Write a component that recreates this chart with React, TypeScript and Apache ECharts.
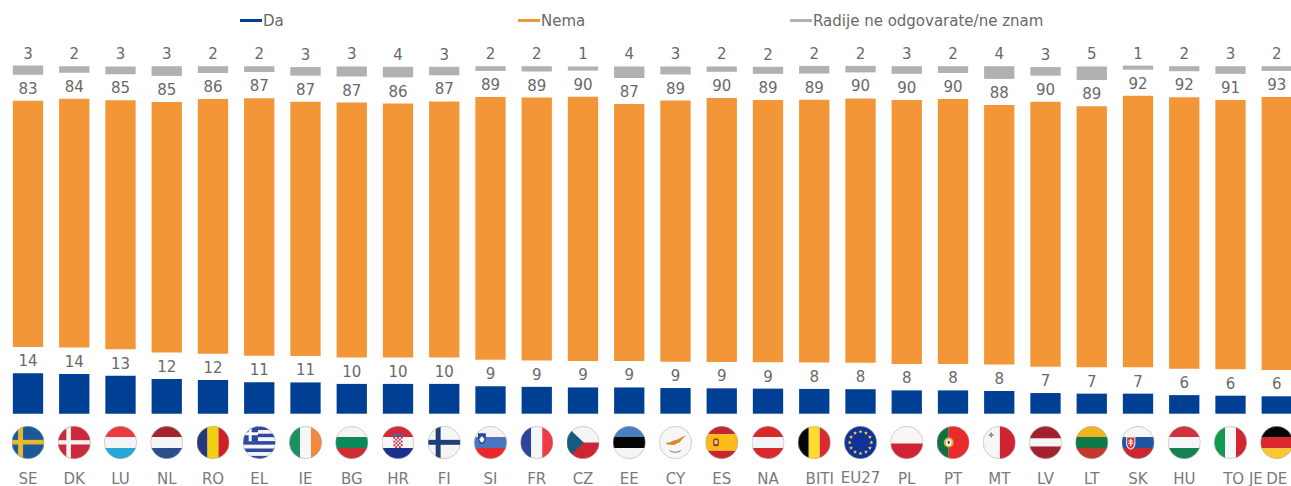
import React, { useEffect, useRef } from "react";
import * as echarts from "echarts";

const countries = ["SE","DK","LU","NL","RO","EL","IE","BG","HR","FI","SI","FR","CZ","EE","CY","ES","NA","BITI","EU27","PL","PT","MT","LV","LT","SK","HU","TO JE","DE"];
const daValues = [13.7,13.5,12.9,11.8,11.4,10.7,10.6,10.1,10.1,10.1,9.3,9.1,8.9,8.9,8.7,8.6,8.5,8.4,8.3,7.9,7.9,7.7,7.0,6.8,6.8,6.3,6.1,5.9];
const nemaValues = [83.4,84.3,84.4,84.9,86.3,87.3,86.2,86.4,86.1,86.8,89.1,89.1,89.6,87.1,88.5,89.5,88.9,89.1,89.6,89.5,89.8,88.0,89.8,88.5,92.0,92.0,91.3,92.5];
const dkValues = [3.1,2.2,2.6,3.3,2.3,2.0,2.9,3.4,3.6,2.9,1.6,1.8,1.4,3.9,2.7,1.8,2.4,2.6,2.2,2.6,2.3,4.3,2.9,4.6,1.4,1.7,2.6,1.6];
const daLabels = [14,14,13,12,12,11,11,10,10,10,9,9,9,9,9,9,9,8,8,8,8,8,7,7,7,6,6,6];
const nemaLabels = [83,84,85,85,86,87,87,87,86,87,89,89,90,87,89,90,89,89,90,90,90,88,90,89,92,92,91,93];
const dkLabels = [3,2,3,3,2,2,3,3,4,3,2,2,1,4,3,2,2,2,2,3,2,4,3,5,1,2,3,2];
const gapLow = 8.95;
const gapHigh = 8.85;

const h = (cols: string[], stops?: number[]) => {
  const s = stops || cols.map((_, i) => (100 / cols.length) * i);
  return cols.map((c, i) => `<rect x="0" y="${s[i]}" width="100" height="${(s[i + 1] ?? 100) - s[i]}" fill="${c}"/>`).join("");
};
const v = (cols: string[], stops?: number[]) => {
  const s = stops || cols.map((_, i) => (100 / cols.length) * i);
  return cols.map((c, i) => `<rect y="0" x="${s[i]}" height="100" width="${(s[i + 1] ?? 100) - s[i]}" fill="${c}"/>`).join("");
};
const cross = (bg: string, fg: string, x: number, w: number, y: number, t: number) =>
  `<rect width="100" height="100" fill="${bg}"/><rect x="${x}" y="0" width="${w}" height="100" fill="${fg}"/><rect x="0" y="${y}" width="100" height="${t}" fill="${fg}"/>`;
const starPts = (cx: number, cy: number, r: number) => {
  const p: string[] = [];
  for (let i = 0; i < 10; i++) {
    const a = (Math.PI / 5) * i - Math.PI / 2;
    const q = i % 2 ? r * 0.42 : r;
    p.push(`${(cx + q * Math.cos(a)).toFixed(1)},${(cy + q * Math.sin(a)).toFixed(1)}`);
  }
  return p.join(" ");
};
const euStars = Array.from({ length: 12 }, (_, i) => {
  const a = (Math.PI / 6) * i;
  return `<polygon points="${starPts(50 + 33 * Math.cos(a), 50 + 33 * Math.sin(a), 6.5)}" fill="#f6d33a"/>`;
}).join("");
const checker = (() => {
  let out = `<rect x="34" y="24" width="32" height="7" fill="#3f6cb0"/><rect x="36" y="33" width="28" height="34" rx="4" fill="#fff"/>`;
  for (let r = 0; r < 6; r++) for (let c = 0; c < 5; c++) {
    if ((r + c) % 2 === 0) out += `<rect x="${36 + c * 5.6}" y="${33 + r * 5.6}" width="5.6" height="5.6" fill="#d32a36"/>`;
  }
  return out;
})();
const greekStripes = Array.from({ length: 9 }, (_, i) => `<rect x="0" y="${i * 11.2 + 1}" width="100" height="11.2" fill="${i % 2 ? "#f6f6f6" : "#2b4aa0"}"/>`).join("");

const flags: string[] = [
  cross("#1b5a97", "#e9b82f", 20, 15, 42, 14),
  cross("#cc2a3c", "#f5f2f2", 26, 14, 43, 13),
  h(["#ea3a3d", "#f5f5f5", "#27a7d8"]),
  h(["#a3262d", "#f5f5f5", "#2c4f8c"]),
  v(["#24397c", "#f2d00f", "#cf2027"]),
  `<rect width="100" height="100" fill="#f6f6f6"/>${greekStripes}<rect x="0" y="0" width="46" height="46" fill="#2b4aa0"/><rect x="18" y="0" width="9" height="46" fill="#fff"/><rect x="0" y="19" width="46" height="9" fill="#fff"/>`,
  v(["#1c9160", "#f7f7f7", "#f18a3f"]),
  h(["#f5f5f5", "#0d8a5b", "#cc2e33"]),
  h(["#d32a36", "#f6f6f6", "#1c2f8c"]) + checker,
  cross("#f5f5f5", "#1f3f75", 24, 15, 42, 15),
  h(["#f5f5f5", "#4a75c0", "#e8282e"]) + `<path d="M12 22h24v20q-2 10-12 14q-10-4-12-14z" fill="#2c4a9c"/><path d="M16 40l8-10l8 10q-2 8-8 11q-6-3-8-11z" fill="#fff"/>`,
  v(["#2d4598", "#f6f6f6", "#ee3a43"]),
  h(["#f5f5f5", "#cf2432"], [0, 50]) + `<polygon points="0,0 52,50 0,100" fill="#155a80"/>`,
  h(["#4a7fbf", "#050505", "#f5f5f5"]),
  `<rect width="100" height="100" fill="#f7f7f7"/><path d="M20 52q6-3 14-3q6-4 14-6q6 0 12-4q10-6 22-12q-6 8-12 13q-4 6-8 10q-8 1-12 6q-8 3-16 1q-8 1-14-5z" fill="#dc8a2e"/><path d="M30 72q18 12 38 0q-4 9-19 9q-14 0-19-9z" fill="#7d8a5c"/>`,
  h(["#c4262c", "#fdbb1a", "#c4262c"], [0, 25, 75]) + `<rect x="24" y="38" width="17" height="23" rx="5" fill="#9a3a22"/><rect x="28" y="43" width="9" height="12" fill="#e8d6a0"/>`,
  h(["#d9282b", "#f5f5f5", "#d9282b"]),
  v(["#050505", "#fcdc2d", "#da2b30"]),
  `<rect width="100" height="100" fill="#0f3296"/>${euStars}`,
  h(["#faf6f4", "#cf2336"], [0, 53]),
  v(["#10703f", "#e92b2b"], [0, 37]) + `<circle cx="37" cy="50" r="15" fill="#e3b23c"/><rect x="29" y="40" width="16" height="20" rx="5" fill="#f4f4f4"/><rect x="34" y="45" width="6" height="9" fill="#23478e"/>`,
  v(["#f6f6f6", "#cf2233"], [0, 52]) + `<path d="M18 25h5v-5h5v5h5v5h-5v5h-5v-5h-5z" fill="#8f8f8f"/>`,
  h(["#a3202f", "#f5f5f5", "#a3202f"], [0, 38, 62]),
  h(["#f0b41f", "#0f7a46", "#c23a2d"]),
  h(["#f8f6f6", "#1d56a3", "#cb2732"]) + `<path d="M14 32h28v24q-2 12-14 16q-12-4-14-16z" fill="#f4f4f4"/><path d="M17 35h22v21q-2 9-11 13q-9-4-11-13z" fill="#d8323a"/><rect x="26" y="39" width="4" height="22" fill="#fff"/><rect x="21" y="44" width="14" height="3" fill="#fff"/><rect x="20" y="51" width="16" height="3" fill="#fff"/>`,
  h(["#d2303c", "#f6f6f6", "#168153"]),
  v(["#11994d", "#f6f6f6", "#d3262f"]),
  h(["#050505", "#d8292f", "#fcc735"]),
];

const flagUri = (body: string) => {
  const svg = `<svg xmlns="http://www.w3.org/2000/svg" width="100" height="100" viewBox="0 0 100 100"><defs><clipPath id="c"><circle cx="50" cy="50" r="49"/></clipPath></defs><g clip-path="url(#c)">${body}</g><circle cx="50" cy="50" r="49" fill="none" stroke="#a8a8a8" stroke-width="1.6"/></svg>`;
  return "image://data:image/svg+xml;charset=utf-8," + encodeURIComponent(svg);
};

const FONT = "'DejaVu Sans', Verdana, sans-serif";
const LABEL = "#696969";

const barSeries = (name: string, data: number[], color: string, labels: number[]) => ({
  name,
  type: "bar",
  stack: "total",
  xAxisIndex: 0,
  yAxisIndex: 0,
  barWidth: 30.3,
  data,
  itemStyle: { color },
  label: {
    show: true,
    position: "top",
    distance: 4.5,
    fontFamily: FONT,
    fontSize: 15,
    color: LABEL,
    formatter: (p: any) => String(labels[p.dataIndex]),
  },
});
const spacer = (name: string, value: number) => ({
  name,
  type: "bar",
  stack: "total",
  xAxisIndex: 0,
  yAxisIndex: 0,
  barWidth: 30.3,
  data: countries.map(() => value),
  itemStyle: { color: "transparent" },
  silent: true,
});

export default function App() {
  const ref = useRef<HTMLDivElement>(null);
  useEffect(() => {
    const chart = echarts.init(ref.current!, undefined, { renderer: "svg" });
    const legendBase = {
      icon: "rect",
      itemWidth: 22,
      itemHeight: 3,
      top: 13,
      padding: 0,
      textStyle: { fontFamily: FONT, fontSize: 15, color: LABEL, padding: [0, 0, 0, -4] },
    };
    const catStyle = { fontFamily: FONT, fontSize: 15, lineHeight: 12, color: "#7a7a7a" };
    chart.setOption({
      animation: false,
      backgroundColor: "#ffffff",
      legend: [
        { ...legendBase, left: 240, data: ["Da"] },
        { ...legendBase, left: 518, data: ["Nema"] },
        { ...legendBase, left: 790, data: ["Radije ne odgovarate/ne znam"] },
      ],
      grid: [
        { left: 4.875, width: 1295, top: 59.7, height: 354, outerBoundsMode: "none" },
        { left: 4.875, width: 1295, top: 426.5, height: 32, outerBoundsMode: "none" },
      ],
      xAxis: [
        { type: "category", gridIndex: 0, data: countries, show: false },
        {
          type: "category",
          gridIndex: 1,
          data: countries,
          axisLine: { show: false },
          axisTick: { show: false },
          axisLabel: {
            interval: 0,
            margin: 26,
            verticalAlign: "bottom",
            hideOverlap: false,
            ...catStyle,
            formatter: (c: string) => {
              if (c === "BITI") return "{biti|BITI}";
              if (c === "TO JE") return "{toje|TO JE}";
              if (c === "EU27") return "{eu|EU27}";
              return c;
            },
            rich: {
              biti: { ...catStyle, padding: [0, 0, 0, 11] },
              toje: { ...catStyle, padding: [0, 0, 0, 25] },
              eu: { ...catStyle, padding: [0, 0, 2, 0] },
            },
          },
        },
      ],
      yAxis: [
        { type: "value", gridIndex: 0, min: 0, max: 120, show: false },
        { type: "value", gridIndex: 1, min: -1, max: 1, show: false },
      ],
      series: [
        barSeries("Da", daValues, "#004094", daLabels),
        spacer("gapLow", gapLow),
        barSeries("Nema", nemaValues, "#f39638", nemaLabels),
        spacer("gapHigh", gapHigh),
        barSeries("Radije ne odgovarate/ne znam", dkValues, "#b1b1b1", dkLabels),
        {
          name: "flags",
          type: "scatter",
          xAxisIndex: 1,
          yAxisIndex: 1,
          symbolSize: 33,
          silent: true,
          itemStyle: { opacity: 1 },
          data: countries.map((c, i) => ({ value: [c, 0], symbol: flagUri(flags[i]) })),
        },
      ],
    });
    return () => chart.dispose();
  }, []);
  return <div ref={ref} style={{ position: "fixed", left: 0, top: 0, width: 1291, height: 486, overflow: "hidden" }} />;
}
